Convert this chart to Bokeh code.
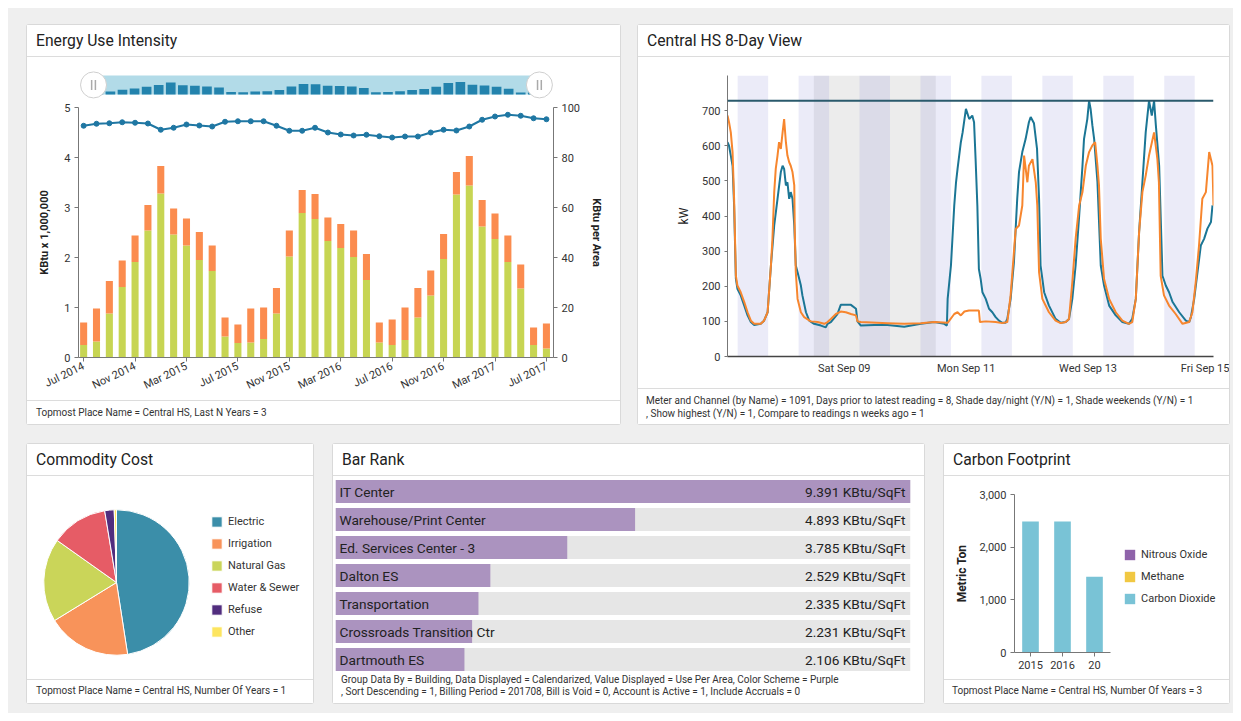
import math
import pandas as pd
from bokeh.plotting import figure
from bokeh.layouts import row, column
from bokeh.models import (ColumnDataSource, Range1d, LinearAxis, FixedTicker, Div, Spacer,
                          Legend, LegendItem, FactorRange, NumeralTickFormatter,
                          DatetimeTickFormatter, Span)
from bokeh.core.properties import value
from bokeh.embed import file_html
from bokeh.resources import INLINE

FONT = "Roboto"

# ---------------- data: Energy Use Intensity ----------------
eui_months = [d.strftime("%b %Y") for d in pd.date_range("2014-07-01", periods=37, freq="MS")]
eui_lower = [0.25, 0.32, 0.88, 1.41, 1.91, 2.54, 3.28, 2.46, 2.24, 1.95, 1.73, 0.42, 0.29,
             0.30, 0.37, 0.88, 2.02, 2.89, 2.77, 2.33, 2.19, 2.01, 1.55, 0.30, 0.25, 0.35,
             0.80, 1.24, 1.97, 3.26, 3.44, 2.62, 2.37, 1.91, 1.38, 0.25, 0.18]
eui_upper = [0.45, 0.66, 0.65, 0.53, 0.53, 0.51, 0.55, 0.52, 0.54, 0.56, 0.51, 0.38, 0.37,
             0.68, 0.63, 0.51, 0.52, 0.46, 0.50, 0.47, 0.48, 0.53, 0.52, 0.40, 0.51, 0.65,
             0.59, 0.50, 0.50, 0.45, 0.59, 0.53, 0.51, 0.53, 0.48, 0.35, 0.50]
eui_per_area = [92.7, 93.5, 93.7, 94.1, 93.9, 93.6, 91.1, 91.9, 93.2, 92.8, 92.4, 94.3, 94.5,
                94.5, 94.5, 92.7, 90.7, 90.7, 91.9, 90.0, 89.2, 88.8, 89.1, 88.5, 88.0, 88.4,
                88.4, 90.0, 91.1, 90.8, 92.4, 95.1, 96.4, 97.1, 96.7, 95.7, 95.3]
eui_tick_every = 4

# ---------------- data: Central HS 8-Day View ----------------
window_start_utc = "2017-09-07 02:00"
utc_offset_h = 12
kw_cur_hours = [0.0, 0.6, 1.3, 2.0, 2.6, 3.3, 3.9, 5.2, 6.6, 7.9,
                9.2, 10.5, 13.1, 14.4, 15.8, 17.1, 18.4, 19.7, 21.0, 21.7,
                22.3, 23.0, 23.6, 24.3, 24.9, 25.6, 26.3, 26.9, 27.6, 28.9,
                29.5, 30.9, 32.2, 34.1, 36.8, 38.7, 39.4, 40.7, 43.3, 44.6,
                48.6, 50.6, 51.2, 52.5, 57.8, 63.0, 69.6, 76.2, 81.4, 85.4,
                86.4, 86.7, 88.0, 89.3, 90.0, 90.6, 91.9, 92.6, 93.9, 95.2,
                96.4, 97.1, 97.7, 98.4, 99.0, 99.7, 100.4, 101.7, 103.0, 104.3,
                105.6, 106.9, 108.2, 109.5, 110.2, 111.5, 112.8, 114.1, 114.8, 116.1,
                117.4, 118.7, 119.4, 120.7, 121.9, 122.7, 123.3, 124.7, 126.6, 129.2,
                131.2, 133.2, 134.5, 135.8, 137.1, 138.5, 139.8, 140.4, 141.7, 142.4,
                143.0, 143.7, 144.4, 145.7, 147.0, 148.3, 150.3, 152.9, 155.5, 158.1,
                159.4, 160.8, 162.1, 163.4, 164.7, 166.0, 167.1, 168.0, 168.7, 170.0,
                171.3, 172.6, 173.9, 175.3, 177.9, 180.5, 181.8, 182.5, 183.8, 185.1,
                186.4, 187.7, 189.0, 190.4, 191.0]
kw_cur = [610, 600, 572, 543, 430, 221, 193, 174, 145, 117,
          98, 90, 93, 102, 126, 259, 373, 449, 525, 543,
          534, 487, 496, 449, 468, 449, 373, 259, 240, 202,
          174, 126, 102, 93, 88, 83, 93, 98, 121, 147,
          147, 136, 100, 88, 90, 90, 85, 93, 98, 93,
          88, 164, 259, 430, 496, 534, 610, 638, 705, 676,
          686, 667, 563, 430, 249, 221, 183, 164, 136, 126,
          112, 102, 96, 96, 107, 164, 268, 449, 525, 582,
          619, 667, 682, 664, 591, 449, 259, 183, 145, 107,
          96, 98, 107, 164, 259, 401, 543, 619, 676, 728,
          705, 658, 619, 496, 259, 202, 145, 117, 98, 93,
          107, 164, 354, 496, 638, 728, 686, 728, 658, 543,
          230, 202, 183, 155, 126, 102, 98, 112, 164, 240,
          316, 335, 364, 383, 430]
kw_prev_hours = [0.0, 0.6, 1.3, 2.0, 2.6, 3.3, 3.9, 5.2, 6.6, 7.9,
                 9.2, 10.5, 13.1, 14.4, 15.8, 17.1, 17.7, 18.4, 19.0, 19.7,
                 20.3, 21.0, 21.7, 22.3, 23.0, 23.6, 24.3, 24.9, 25.6, 26.3,
                 26.5, 26.9, 27.6, 28.9, 30.2, 32.8, 35.5, 38.1, 39.4, 40.7,
                 42.7, 44.6, 46.6, 48.6, 50.6, 51.2, 52.5, 63.0, 69.6, 76.2,
                 81.4, 86.7, 89.3, 90.6, 91.9, 93.3, 95.1, 99.0, 99.4, 101.7,
                 105.6, 108.2, 110.2, 111.5, 112.8, 113.5, 114.8, 116.1, 116.8, 118.1,
                 118.7, 120.1, 121.4, 122.0, 122.7, 124.0, 126.6, 129.2, 131.2, 133.2,
                 134.5, 135.8, 137.1, 138.5, 139.8, 141.1, 142.4, 143.7, 144.8, 145.7,
                 146.3, 147.0, 148.3, 150.3, 152.9, 155.5, 158.1, 159.4, 160.8, 162.1,
                 163.4, 164.7, 166.0, 168.0, 169.3, 169.9, 170.6, 171.9, 173.9, 176.5,
                 179.2, 181.8, 183.1, 184.4, 185.7, 187.0, 188.4, 189.7, 191.0, 191.4]
kw_prev = [686, 667, 638, 581, 449, 230, 202, 183, 155, 126,
           102, 93, 93, 102, 126, 259, 335, 468, 534, 572,
           610, 591, 638, 676, 610, 572, 553, 543, 525, 487,
           354, 240, 164, 126, 112, 100, 98, 93, 98, 107,
           121, 128, 126, 121, 117, 100, 98, 95, 93, 95,
           98, 96, 121, 126, 117, 128, 131, 131, 98, 100,
           98, 95, 98, 174, 297, 363, 373, 430, 572, 496,
           543, 562, 496, 430, 240, 164, 126, 102, 95, 98,
           107, 212, 335, 430, 468, 543, 582, 601, 610, 543,
           487, 335, 221, 164, 126, 102, 93, 98, 164, 354,
           468, 515, 572, 638, 562, 496, 230, 174, 145, 121,
           93, 98, 126, 212, 316, 449, 468, 582, 543, 430]
kw_ticks = [0, 100, 200, 300, 400, 500, 600, 700]
kw_date_ticks = ["2017-09-09", "2017-09-11", "2017-09-13", "2017-09-15"]

# ---------------- data: Commodity Cost ----------------
cost_labels = ["Electric", "Irrigation", "Natural Gas", "Water & Sewer", "Refuse", "Other"]
cost_share = [47.6, 18.7, 18.6, 12.6, 2.1, 0.5]
cost_colors = ["#3b8ea9", "#f8935a", "#cad559", "#e65c66", "#512d7e", "#fde55f"]

# ---------------- data: Bar Rank ----------------
rank_names = ["IT Center", "Warehouse/Print Center", "Ed. Services Center - 3", "Dalton ES",
              "Transportation", "Crossroads Transition Ctr", "Dartmouth ES"]
rank_values = [9.391, 4.893, 3.785, 2.529, 2.335, 2.231, 2.106]

# ---------------- data: Carbon Footprint ----------------
carbon_years = ["2015", "2016", "20"]
carbon_co2 = [2486, 2486, 1440]
carbon_ch4 = [0, 0, 0]
carbon_n2o = [0, 0, 0]
carbon_ticks = [0, 1000, 2000, 3000]

# ---------------- helpers ----------------
def new_fig(w, h, **kw):
    p = figure(width=w, height=h, output_backend="svg", toolbar_location=None, **kw)
    p.outline_line_color = None
    p.background_fill_color = "white"
    p.border_fill_color = "white"
    p.grid.grid_line_color = None
    return p


def style_axes(p):
    for ax in p.axis:
        ax.axis_line_color = "#777777"
        ax.major_tick_line_color = "#777777"
        ax.minor_tick_line_color = None
        ax.major_tick_out = 4
        ax.major_tick_in = 0
        ax.major_label_standoff = 4
        ax.major_label_text_font = FONT
        ax.major_label_text_font_size = "11px"
        ax.major_label_text_color = "#333333"
        ax.axis_label_text_font = FONT
        ax.axis_label_text_font_size = "11px"
        ax.axis_label_text_font_style = "bold"
        ax.axis_label_text_color = "#222222"


def header(text, w):
    html = ('<div style="box-sizing:border-box;width:%dpx;height:32px;line-height:31px;'
            'padding-left:9px;border-bottom:1px solid #dcdcdc;font-family:Roboto;'
            'font-size:15.7px;color:#222;white-space:nowrap;background:white;">%s</div>' % (w, text))
    return Div(text=html, width=w, height=32, margin=0)


def footer(lines, w, h, border=True, pad_top=5, pad_left=9, lh=13):
    html = ('<div style="box-sizing:border-box;width:%dpx;height:%dpx;%spadding-top:%dpx;'
            'padding-left:%dpx;font-family:Roboto;font-size:10px;line-height:%dpx;color:#333;'
            'white-space:nowrap;overflow:hidden;background:white;">%s</div>'
            % (w, h, "border-top:1px solid #dcdcdc;" if border else "", pad_top, pad_left, lh,
               "<br>".join(lines)))
    return Div(text=html, width=w, height=h, margin=0)


def panel(children):
    return column(*children, styles={"background-color": "white",
                                     "box-shadow": "0 0 0 1px #d9d9d9",
                                     "border-radius": "2px"})


def legend_at(items, loc):
    return Legend(items=items, location=loc, glyph_width=13, glyph_height=13, label_height=13,
                  spacing=9, padding=0, margin=0, label_standoff=5, label_text_font=FONT,
                  label_text_font_size="11px", label_text_color="#333333",
                  border_line_color=None, background_fill_alpha=0)


# ================= Panel 1: Energy Use Intensity =================
P1W = 593
n = len(eui_months)
xi = list(range(n))
X0, X1 = -0.4, n - 1 + 0.55
FRAME1 = 475
kpx = FRAME1 / (X1 - X0)
totals = [a + b for a, b in zip(eui_lower, eui_upper)]
tmax = max(totals)
esrc = ColumnDataSource(dict(x=xi, lower=eui_lower, upper=eui_upper, area=eui_per_area,
                             mini=[t / tmax * 0.66 for t in totals]))

nav = new_fig(P1W, 43, x_range=Range1d(X0 - 16 / kpx, X1 + 15 / kpx), y_range=Range1d(-0.32, 1.26),
              x_axis_type=None, y_axis_type=None,
              min_border_left=35, min_border_right=P1W - 35 - (FRAME1 + 31),
              min_border_top=13, min_border_bottom=0)
nav.quad(left=X0, right=X1, bottom=0, top=1, fill_color="#b2dbe8", line_color=None)
nav.vbar(x="x", top="mini", bottom=0.0, width=0.8, fill_color="#2383ad", line_color=None, source=esrc)
nav.scatter(x=[X0, X1], y=[0.5, 0.5], size=26, fill_color="white", line_color="#cfcfcf", line_width=1)
nav.scatter(x=[X0 - 2 / kpx, X0 + 2 / kpx, X1 - 2 / kpx, X1 + 2 / kpx], y=[0.5] * 4, marker="dash",
            angle=math.pi / 2, size=10, line_color="#aaaaaa", line_width=1.5)

p1 = new_fig(P1W, 300, x_range=Range1d(X0, X1), y_range=Range1d(0, 5),
             min_border_left=51, min_border_right=P1W - 51 - FRAME1, min_border_top=7, min_border_bottom=43)
p1.extra_y_ranges = {"area": Range1d(0, 100)}
p1.vbar_stack(["lower", "upper"], x="x", width=0.55, color=["#c7d553", "#fb8c4f"], line_color=None,
              source=esrc)
p1.line("x", "area", y_range_name="area", line_color="#1f77a3", line_width=2, source=esrc)
p1.scatter("x", "area", y_range_name="area", size=5, fill_color="#1f77a3", line_color="#1f77a3", source=esrc)
p1.add_layout(LinearAxis(y_range_name="area", axis_label="KBtu per Area",
                         ticker=FixedTicker(ticks=[0, 20, 40, 60, 80, 100])), "right")
p1.yaxis[0].ticker = FixedTicker(ticks=[0, 1, 2, 3, 4, 5])
p1.yaxis[0].axis_label = "KBtu x 1,000,000"
tick_idx = list(range(0, n, eui_tick_every))
p1.xaxis.ticker = FixedTicker(ticks=tick_idx)
p1.xaxis.major_label_overrides = {i: eui_months[i] for i in tick_idx}
style_axes(p1)
p1.xaxis.major_label_orientation = 0.45
p1.yaxis[0].axis_label_standoff = 10
p1.yaxis[1].axis_label_standoff = 7

panel1 = panel([header("Energy Use Intensity", P1W), nav, p1,
                footer(["Topmost Place Name = Central HS, Last N Years = 3"], P1W, 24, pad_top=5, pad_left=9)])

# ================= Panel 2: Central HS 8-Day View =================
P2W = 591
t0 = pd.Timestamp(window_start_utc)
off = pd.Timedelta(hours=utc_offset_h)
ms = lambda ts: ts.value / 1e6
t_cur = (t0 + pd.to_timedelta(kw_cur_hours, unit="h")).values
t_prev = (t0 + pd.to_timedelta(kw_prev_hours, unit="h")).values
x_start = ms(t0)
x_end = ms(t0 + pd.Timedelta(hours=max(kw_cur_hours + kw_prev_hours)))
y_top = 800

local_days = pd.date_range("2017-09-06", "2017-09-15", freq="D")
night_l = [ms(d + pd.Timedelta(hours=18) - off) for d in local_days]
night_r = [ms(d + pd.Timedelta(hours=30) - off) for d in local_days]
wk_l = [ms(pd.Timestamp("2017-09-09") - off)]
wk_r = [ms(pd.Timestamp("2017-09-11") - off)]

p2 = new_fig(P2W, 331, x_axis_type="datetime", x_range=Range1d(x_start, x_end), y_range=Range1d(0, y_top),
             min_border_left=89, min_border_right=16, min_border_top=18, min_border_bottom=32)
p2.quad(left=wk_l, right=wk_r, bottom=0, top=y_top, fill_color="#ececec", line_color=None)
p2.quad(left=night_l, right=night_r, bottom=0, top=y_top, fill_color="#8a8ad6", fill_alpha=0.17, line_color=None)
p2.line(t_cur, kw_cur, line_color="#1b7695", line_width=2)
p2.line(t_prev, kw_prev, line_color="#f7862e", line_width=2)
p2.add_layout(Span(location=max(kw_cur), dimension="width", line_color="#2a5a6c", line_width=2))
style_axes(p2)
p2.yaxis.ticker = FixedTicker(ticks=kw_ticks)
p2.yaxis.axis_label = "kW"
p2.yaxis.axis_label_text_font_style = "normal"
p2.yaxis.axis_label_text_font_size = "12px"
p2.yaxis.axis_label_standoff = 8
p2.yaxis.major_tick_out = 3
p2.xaxis.ticker = FixedTicker(ticks=[ms(pd.Timestamp(d)) for d in kw_date_ticks])
p2.xaxis.formatter = DatetimeTickFormatter(days="%a %b %d", months="%a %b %d", hours="%a %b %d")
p2.xaxis.major_tick_out = 0
p2.xaxis.major_label_standoff = 5
p2.xaxis.axis_line_color = "#444444"
p2.xaxis.axis_line_width = 1.5

panel2 = panel([header("Central HS 8-Day View", P2W), p2,
                footer(["Meter and Channel (by Name) = 1091, Days prior to latest reading = 8, "
                        "Shade day/night (Y/N) = 1, Shade weekends (Y/N) = 1",
                        ", Show highest (Y/N) = 1, Compare to readings n weeks ago = 1"],
                       P2W, 36, pad_top=5, pad_left=8)])

# ================= Panel 3: Commodity Cost =================
P3W = 286
PIE_FRAME_W, PIE_FRAME_H = 270, 160
pie_px = PIE_FRAME_H / 2.2
tot = sum(cost_share)
starts, ends, cum = [], [], 0.0
for v in cost_share:
    starts.append(math.pi / 2 - 2 * math.pi * cum / tot)
    cum += v
    ends.append(math.pi / 2 - 2 * math.pi * cum / tot)
psrc = ColumnDataSource(dict(start=starts, end=ends, color=cost_colors, label=cost_labels))
p3 = new_fig(P3W, 203, x_range=Range1d(-1.1, -1.1 + PIE_FRAME_W / pie_px), y_range=Range1d(-1.1, 1.1),
             x_axis_type=None, y_axis_type=None,
             min_border_left=9, min_border_right=P3W - 9 - PIE_FRAME_W, min_border_top=26, min_border_bottom=17)
wr = p3.wedge(x=0, y=0, radius=1.0, start_angle="start", end_angle="end", direction="clock",
              fill_color="color", line_color="white", line_width=1, source=psrc)
p3.add_layout(legend_at([LegendItem(label=lab, renderers=[wr], index=i) for i, lab in enumerate(cost_labels)],
                        (174, 24)))

panel3 = panel([header("Commodity Cost", P3W), p3,
                footer(["Topmost Place Name = Central HS, Number Of Years = 1"], P3W, 24, pad_top=4, pad_left=9)])

# ================= Panel 4: Bar Rank =================
P4W = 591
vmax = max(rank_values)
rsrc = ColumnDataSource(dict(name=rank_names, value=rank_values,
                             label=["%.3f KBtu/SqFt" % v for v in rank_values]))
p4 = new_fig(P4W, 197, x_range=Range1d(0, vmax), y_range=FactorRange(*reversed(rank_names)),
             x_axis_type=None, y_axis_type=None,
             min_border_left=2, min_border_right=P4W - 2 - 575, min_border_top=1, min_border_bottom=0)
p4.hbar(y="name", left=0, right=vmax, height=0.83, fill_color="#e6e6e6", line_color=None, source=rsrc)
p4.hbar(y="name", left=0, right="value", height=0.83, fill_color="#ab93bf", line_color=None, source=rsrc)
p4.text(x=0, y="name", text="name", x_offset=4, text_align="left", text_baseline="middle",
        text_font=value(FONT), text_font_size="13.7px", text_color="#222222", source=rsrc)
p4.text(x=vmax, y="name", text="label", x_offset=-5, text_align="right", text_baseline="middle",
        text_font=value(FONT), text_font_size="13.7px", text_color="#222222", source=rsrc)

panel4 = panel([header("Bar Rank", P4W), p4,
                footer(["Group Data By = Building, Data Displayed = Calendarized, Value Displayed = Use Per Area, "
                        "Color Scheme = Purple",
                        ", Sort Descending = 1, Billing Period = 201708, Bill is Void = 0, Account is Active = 1, "
                        "Include Accruals = 0"], P4W, 30, border=False, pad_top=1, pad_left=8, lh=12)])

# ================= Panel 5: Carbon Footprint =================
P5W = 285
C_SLOT = 32
C_FRAME_W = P5W - 70 - 5
xpos = list(range(len(carbon_years)))
csrc = ColumnDataSource(dict(x=xpos, co2=carbon_co2, ch4=carbon_ch4, n2o=carbon_n2o))
p5 = new_fig(P5W, 203, x_range=Range1d(-0.5, -0.5 + C_FRAME_W / C_SLOT), y_range=Range1d(0, 3000),
             min_border_left=70, min_border_right=5, min_border_top=18, min_border_bottom=27)
rs = p5.vbar_stack(["co2", "ch4", "n2o"], x="x", width=0.52,
                   color=["#79c3d6", "#f1c842", "#8f63aa"], line_color=None, source=csrc)
style_axes(p5)
p5.xaxis.bounds = (-0.5, len(carbon_years) - 0.5)
p5.xaxis.ticker = FixedTicker(ticks=xpos)
p5.xaxis.major_label_overrides = {i: y for i, y in zip(xpos, carbon_years)}
p5.yaxis.ticker = FixedTicker(ticks=carbon_ticks)
p5.yaxis.formatter = NumeralTickFormatter(format="0,0")
p5.yaxis.axis_label = "Metric Ton"
p5.yaxis.axis_label_text_font_size = "12px"
p5.yaxis.axis_label_standoff = 8
p5.add_layout(legend_at([LegendItem(label="Nitrous Oxide", renderers=[rs[2]]),
                         LegendItem(label="Methane", renderers=[rs[1]]),
                         LegendItem(label="Carbon Dioxide", renderers=[rs[0]])], (109, 47)))

panel5 = panel([header("Carbon Footprint", P5W), p5,
                footer(["Topmost Place Name = Central HS, Number Of Years = 3"], P5W, 24, pad_top=4, pad_left=8)])

# ================= layout =================
top_row = row(panel1, Spacer(width=18, height=399), panel2)
bottom_row = row(panel3, Spacer(width=20, height=259), panel4, Spacer(width=20, height=259), panel5)
inner = column(Spacer(width=1202, height=17), top_row, Spacer(width=1202, height=20), bottom_row,
               Spacer(width=1202, height=10))
gray = row(Spacer(width=19, height=705), inner, Spacer(width=4, height=705),
           styles={"background-color": "#efefef"})
root = column(Spacer(width=1233, height=8), row(Spacer(width=8, height=705), gray))

open("out.html", "w").write(file_html(root, INLINE))
